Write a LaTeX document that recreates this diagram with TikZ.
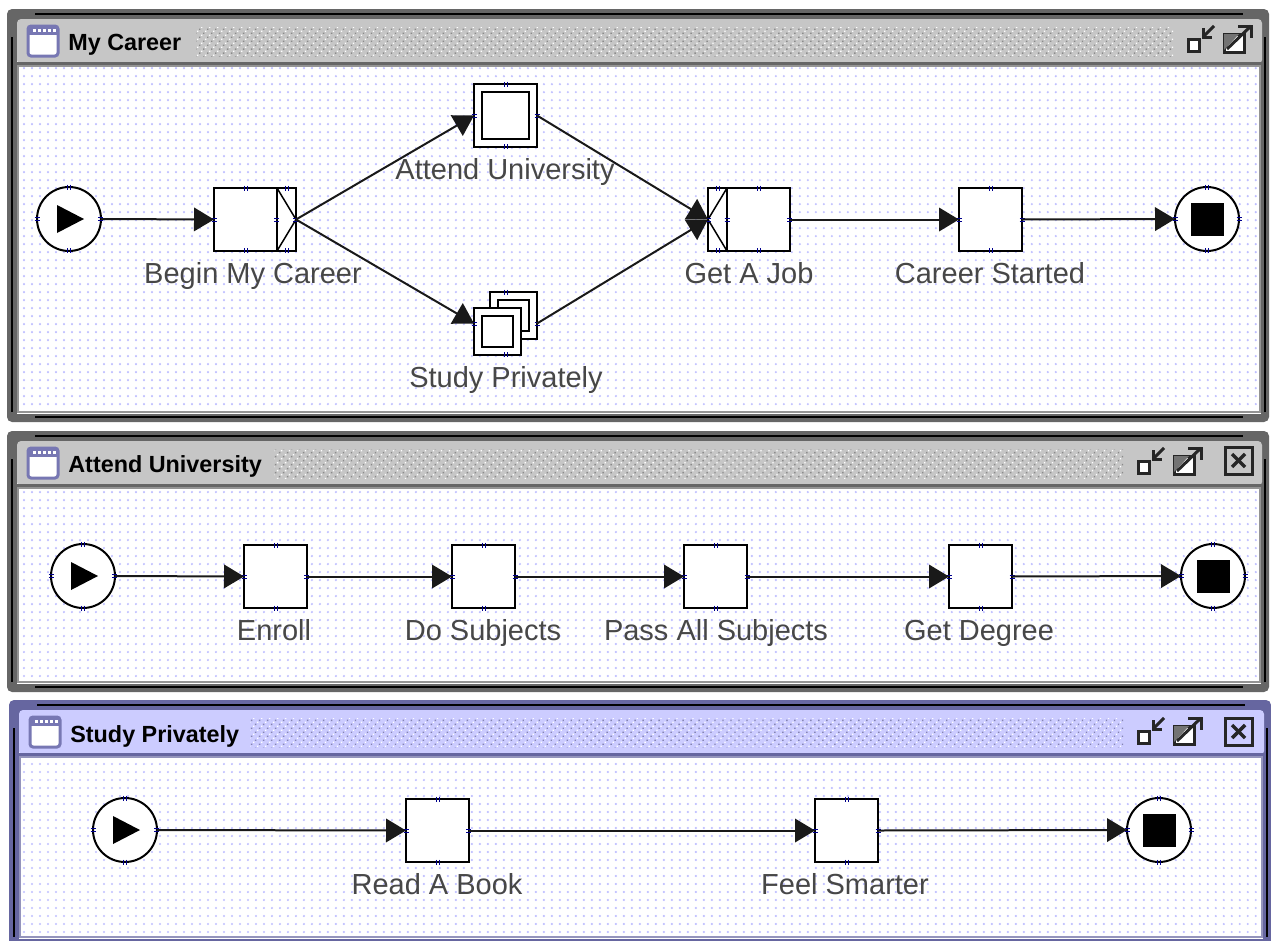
\documentclass[tikz,border=0pt]{standalone}
\usepackage{fontspec}
\setmainfont{Liberation Sans}
\usetikzlibrary{
    arrows.meta,
    patterns.meta,
    positioning
}
\definecolor{framegray}{HTML}{666666}
\definecolor{bargray}{HTML}{C6C6C6}
\definecolor{frameblue}{HTML}{6666A0}
\definecolor{barblue}{HTML}{CCCCFF}
\definecolor{griddot}{HTML}{BFBFFF}
\definecolor{iconblue}{HTML}{7777B3}
\tikzset{
    task/.style={draw, fill=white, line width=0.04cm, inner sep=0pt, outer sep=0pt, minimum size=1.26cm},
    smalltask/.style={task, minimum size=0.94cm},
    inset/.style={path picture={\draw[line width=0.04cm] ([shift={(8,8)}]path picture bounding box.north west) rectangle ([shift={(-8,-8)}]path picture bounding box.south east);}},
    splitbar/.style={draw, fill=white, line width=0.04cm, inner sep=0pt, outer sep=0pt, minimum width=0.38cm, minimum height=1.26cm,
        path picture={\draw[line width=0.03cm] (path picture bounding box.north west) -- (path picture bounding box.east) -- (path picture bounding box.south west);}},
    joinbar/.style={draw, fill=white, line width=0.04cm, inner sep=0pt, outer sep=0pt, minimum width=0.38cm, minimum height=1.26cm,
        path picture={\draw[line width=0.03cm] (path picture bounding box.north east) -- (path picture bounding box.west) -- (path picture bounding box.south east);}},
    startevent/.style={circle, draw, fill=white, line width=0.04cm, inner sep=0pt, outer sep=0pt, minimum size=1.28cm,
        path picture={\fill[black] ([shift={(-12,-14)}]path picture bounding box.center) -- ++(27,14) -- ++(-27,14) -- cycle;}},
    stopevent/.style={circle, draw, fill=white, line width=0.04cm, inner sep=0pt, outer sep=0pt, minimum size=1.28cm,
        path picture={\fill[black] ([shift={(-16,-16)}]path picture bounding box.center) rectangle ++(33,33);}},
    tasklabel/.style={text=black!72, font=\fontsize{16.5}{18}\selectfont, inner sep=0pt, anchor=base},
    wintitle/.style={anchor=base west, font=\bfseries\fontsize{13.3}{15}\selectfont, inner sep=0pt},
    flow/.style={line width=0.04cm, black!90, -{Triangle[length=0.4cm, width=0.47cm]}},
    portmark/.style={blue!55!black, line width=0.012cm},
    winicon/.style={line width=0.06cm, black!85}
}
% tiny connection marks on an element
\newcommand{\ports}[1]{
    \foreach \a in {north,south} {
        \draw[portmark] ([xshift=-0.03cm]#1.\a) ++(0,-2.5) -- ++(0,5);
        \draw[portmark] ([xshift=0.03cm]#1.\a) ++(0,-2.5) -- ++(0,5);
    }
    \foreach \a in {west,east} {
        \draw[portmark] ([yshift=-0.03cm]#1.\a) ++(-2.5,0) -- ++(5,0);
        \draw[portmark] ([yshift=0.03cm]#1.\a) ++(-2.5,0) -- ++(5,0);
    }
}
% left, top, right, bottom, frame, bar, hatch from, hatch to, hatch dots
\newcommand{\appwindow}[9]{
    \fill[#5, rounded corners=0.1cm] (#1,#2) rectangle (#3,#4);
    \draw[black, line width=0.04cm] ({#1+28},{#2+5}) -- ({#3-26},{#2+5});
    \draw[black, line width=0.04cm] ({#1+28},{#4-5}) -- ({#3-26},{#4-5});
    \draw[black, line width=0.04cm] ({#1+5},{#2+28}) -- ({#1+5},{#4-10});
    \draw[black, line width=0.04cm] ({#3-4},{#2+28}) -- ({#3-4},{#4-10});
    \fill[white] ({#1+10},{#2+40}) rectangle ({#3-8},{#4-8});
    \fill[#6, rounded corners=0.08cm] ({#1+10},{#2+10}) rectangle ({#3-7},{#2+55});
    \fill[#5] ({#1+10},{#2+53}) rectangle ({#3-7},{#2+56});
    \fill[white] ({#1+11},{#2+57}) rectangle ({#3-9},{#4-10});
    \fill[pattern={Dots[distance=0.16cm, radius=0.024cm]}, pattern color=griddot] ({#1+11},{#2+57}) rectangle ({#3-9},{#4-10});
    \draw[#5!70, line width=0.03cm] ({#1+11},{#2+57}) rectangle ({#3-9},{#4-10});
    \fill[pattern={Dots[distance=0.113cm, angle=45, radius=0.02cm]}, pattern color=#9] (#7,{#2+18}) rectangle (#8,{#2+47});
    \fill[pattern={Dots[distance=0.113cm, angle=45, radius=0.018cm, xshift=0.04cm, yshift=0.04cm]}, pattern color=white] (#7,{#2+18}) rectangle (#8,{#2+47});
    \draw[iconblue, fill=white, line width=0.06cm, rounded corners=0.06cm] ({#1+21},{#2+17}) rectangle ({#1+51},{#2+47});
    \fill[iconblue] ({#1+21},{#2+17}) rectangle ({#1+51},{#2+26});
    \foreach \d in {0,...,4} {
        \fill[white] ({#1+26+\d*5},{#2+20}) rectangle ++(2.5,2.5);
    }
}
% shrink and grow buttons
\newcommand{\sizeicons}[2]{
    \begin{scope}[shift={(#1,#2)}]
        \draw[winicon, fill=white] (1,14) rectangle (12,26);
        \draw[winicon] (27,1) -- (16,12);
        \draw[winicon] (16,3) -- (16,12) -- (25,12);
        \draw[winicon, fill=white] (37,9) rectangle (57,27);
        \fill[black!55] (37,9) -- (52,9) -- (37,25) -- cycle;
        \draw[winicon] (40,24) -- (64,1);
        \draw[winicon] (51,1) -- (64,1) -- (64,13);
    \end{scope}
}
\newcommand{\closeicon}[2]{
    \begin{scope}[shift={(#1,#2)}]
        \draw[winicon, line width=0.06cm] (0,0) rectangle (27,27);
        \draw[winicon, line width=0.07cm] (7,7) -- (20,20);
        \draw[winicon, line width=0.07cm] (20,7) -- (7,20);
    \end{scope}
}

\begin{document}
\begin{tikzpicture}[x=0.02cm, y=-0.02cm]
    \useasboundingbox (0, 0) rectangle (1271, 940);
    \fill[white] (0, 0) rectangle (1271, 940);

    % career window
    \appwindow{7}{9}{1269}{422}{framegray}{bargray}{196}{1173}{black!45}
    \node[wintitle] (careertitle) at (68, 50) {My Career};
    \sizeicons{1187}{25}

    \node[startevent] (careerstart) at (69, 219) {};
    \node[task] (begin) at (245.5, 219.5) {};
    \node[splitbar, right=0pt of begin] (beginsplit) {};
    \node[task, inset] (attend) at (505.5, 115.5) {};
    \node[smalltask, inset] (studyback) at (513.5, 315.5) {};
    \node[smalltask, inset] (studyfront) at (497.5, 331.5) {};
    \node[minimum size=1.26cm, inner sep=0pt, outer sep=0pt] (study) at (505.5, 323.5) {};
    \node[joinbar] (jobjoin) at (717.5, 219.5) {};
    \node[task, right=0pt of jobjoin] (job) {};
    \node[task] (started) at (990.5, 219.5) {};
    \node[stopevent] (careerstop) at (1207, 219) {};

    \node[tasklabel] (beginlabel) at (253, 283) {Begin My Career};
    \node[tasklabel] (attendlabel) at (505, 179) {Attend University};
    \node[tasklabel] (studylabel) at (506, 387) {Study Privately};
    \node[tasklabel] (joblabel) at (749, 283) {Get A Job};
    \node[tasklabel] (startedlabel) at (990, 283) {Career Started};

    \foreach \n in {careerstart,begin,beginsplit,attend,study,jobjoin,job,started,careerstop} {
        \ports{\n}
    }
    \draw[flow] (careerstart.east) -- (begin.west);
    \draw[flow] (beginsplit.east) -- (attend.west);
    \draw[flow] (beginsplit.east) -- (study.west);
    \draw[flow] (attend.east) -- (jobjoin.west);
    \draw[flow] (study.east) -- (jobjoin.west);
    \draw[flow] (job.east) -- (started.west);
    \draw[flow] (started.east) -- (careerstop.west);

    % university window
    \appwindow{7}{431}{1269}{692}{framegray}{bargray}{274}{1123}{black!45}
    \node[wintitle] (unititle) at (68, 472) {Attend University};
    \sizeicons{1137}{447}
    \closeicon{1225}{447}

    \node[startevent] (unistart) at (83, 576) {};
    \node[task] (enroll) at (275.5, 576.5) {};
    \node[task] (subjects) at (483.5, 576.5) {};
    \node[task] (pass) at (715.5, 576.5) {};
    \node[task] (degree) at (980.5, 576.5) {};
    \node[stopevent] (unistop) at (1213, 576) {};

    \node[tasklabel] (enrolllabel) at (274, 640) {Enroll};
    \node[tasklabel] (subjectslabel) at (483, 640) {Do Subjects};
    \node[tasklabel] (passlabel) at (716, 640) {Pass All Subjects};
    \node[tasklabel] (degreelabel) at (979, 640) {Get Degree};

    \foreach \n in {unistart,enroll,subjects,pass,degree,unistop} {
        \ports{\n}
    }
    \draw[flow] (unistart.east) -- (enroll.west);
    \draw[flow] (enroll.east) -- (subjects.west);
    \draw[flow] (subjects.east) -- (pass.west);
    \draw[flow] (pass.east) -- (degree.west);
    \draw[flow] (degree.east) -- (unistop.west);

    % private study window
    \appwindow{9}{700}{1271}{947}{frameblue}{barblue}{250}{1123}{frameblue!80}
    \node[wintitle] (privatetitle) at (70, 742) {Study Privately};
    \sizeicons{1137}{717}
    \closeicon{1225}{718}

    \node[startevent] (privatestart) at (125, 830) {};
    \node[task] (book) at (437.5, 830.5) {};
    \node[task] (smarter) at (846.5, 830.5) {};
    \node[stopevent] (privatestop) at (1159, 830) {};

    \node[tasklabel] (booklabel) at (437, 894) {Read A Book};
    \node[tasklabel] (smarterlabel) at (845, 894) {Feel Smarter};

    \foreach \n in {privatestart,book,smarter,privatestop} {
        \ports{\n}
    }
    \draw[flow] (privatestart.east) -- (book.west);
    \draw[flow] (book.east) -- (smarter.west);
    \draw[flow] (smarter.east) -- (privatestop.west);
\end{tikzpicture}
\end{document}
